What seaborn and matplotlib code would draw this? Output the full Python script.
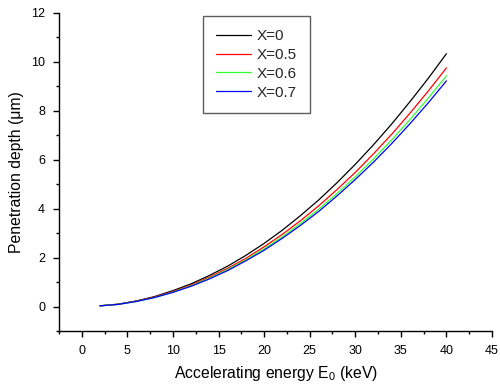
import numpy as np
import pandas as pd
import matplotlib
matplotlib.use("Agg")
import matplotlib.pyplot as plt
import seaborn as sns
from matplotlib.ticker import MultipleLocator

energy = [2, 4, 6, 8, 10, 12, 14, 16, 18, 20, 22, 24, 26, 28, 30, 32, 34, 36, 38, 40]
depth_x0 = [0.03, 0.10, 0.23, 0.41, 0.65, 0.93, 1.27, 1.65, 2.09, 2.58, 3.12, 3.72,
            4.36, 5.06, 5.81, 6.61, 7.46, 8.37, 9.32, 10.33]
depth_x05 = [0.03, 0.09, 0.22, 0.39, 0.61, 0.88, 1.20, 1.56, 1.97, 2.44, 2.95, 3.51,
             4.12, 4.78, 5.48, 6.24, 7.04, 7.90, 8.80, 9.75]
depth_x06 = [0.03, 0.09, 0.21, 0.37, 0.59, 0.85, 1.16, 1.51, 1.91, 2.36, 2.85, 3.40,
             3.98, 4.62, 5.30, 6.03, 6.81, 7.64, 8.51, 9.43]
depth_x07 = [0.03, 0.09, 0.21, 0.37, 0.58, 0.83, 1.13, 1.47, 1.87, 2.30, 2.79, 3.32,
             3.89, 4.52, 5.19, 5.90, 6.66, 7.47, 8.32, 9.22]
labels = ["X=0", "X=0.5", "X=0.6", "X=0.7"]
colors = ["black", "red", "#33ff33", "blue"]

frames = []
for lab, vals in zip(labels, [depth_x0, depth_x05, depth_x06, depth_x07]):
    frames.append(pd.DataFrame({"E": energy, "R": vals, "series": lab}))
df = pd.concat(frames, ignore_index=True)

sns.set_theme(style="ticks")
plt.rcParams["font.family"] = ["Liberation Sans", "DejaVu Sans"]
plt.rcParams["mathtext.default"] = "regular"

fig = plt.figure(figsize=(5.0, 3.89), dpi=100)
ax = fig.add_axes([0.118, 0.149, 0.866, 0.818])
sns.lineplot(data=df, x="E", y="R", hue="series", hue_order=labels,
             palette=colors, linewidth=0.9, ax=ax, legend=True)

ax.set_xlim(-2.5, 45)
ax.set_ylim(-1, 12)
ax.xaxis.set_major_locator(MultipleLocator(5))
ax.xaxis.set_minor_locator(MultipleLocator(2.5))
ax.yaxis.set_major_locator(MultipleLocator(2))
ax.yaxis.set_minor_locator(MultipleLocator(1))
ax.tick_params(which="major", direction="out", length=4, width=1, labelsize=9,
               color="black", labelcolor="black", pad=6)
ax.tick_params(which="minor", direction="out", length=2.5, width=1, color="black")
for s in ["top", "right"]:
    ax.spines[s].set_visible(False)
for s in ["left", "bottom"]:
    ax.spines[s].set_color("black")
    ax.spines[s].set_linewidth(1)

ax.set_xlabel(r"Accelerating energy E$_{0}$ (keV)", fontsize=11.3,
              color="black", labelpad=5)
ax.set_ylabel("Penetration depth (\u03bcm)", fontsize=11.3, color="black", labelpad=5)

leg = ax.legend(loc="upper left", bbox_to_anchor=(0.333, 0.99), frameon=True,
                fontsize=11, handlelength=2.3, handletextpad=0.35, labelspacing=0.32,
                borderpad=0.85, borderaxespad=0, fancybox=False, title=None)
leg.get_frame().set_edgecolor("#333333")
leg.get_frame().set_linewidth(1)

fig.savefig("out.png", dpi=100)
